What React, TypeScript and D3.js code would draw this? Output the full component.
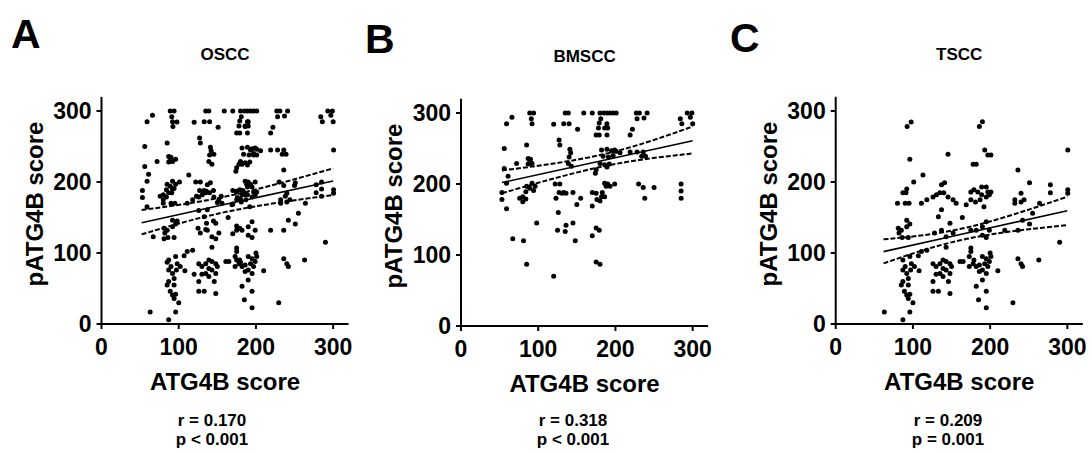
import React from "react";
import * as d3 from "d3";

// [ATG4B score, pATG4B score]
const bmsccPoints: [number, number][] = [
  [89, 300], [94, 300], [135, 300], [139, 300], [159, 300], [170, 300], [180, 300], [185, 300],
  [189, 300], [193, 300], [197, 300], [201, 300], [227, 300], [231, 300], [241, 300], [293, 300], [299, 300],
  [66, 294], [91, 292], [181, 292], [228, 292], [237, 293], [297, 294], [284, 292],
  [59, 285], [92, 285], [120, 284], [133, 285], [140, 285], [179, 286], [189, 285], [286, 285], [300, 285],
  [151, 277], [186, 279], [178, 279], [190, 279], [222, 277],
  [219, 269], [175, 269], [179, 269], [189, 269], [127, 262], [128, 255], [85, 255], [56, 250],
  [87, 236], [90, 235], [88, 229], [92, 229], [87, 228],
  [141, 249], [142, 244], [140, 238], [139, 229], [143, 225], [72, 229], [56, 222],
  [182, 248], [189, 249], [195, 247], [199, 248], [184, 239], [191, 238], [197, 240], [180, 229],
  [186, 227], [192, 228], [201, 246], [206, 244],
  [219, 245], [228, 245], [236, 245], [234, 239], [239, 239],
  [174, 215], [175, 220], [189, 224],
  [53, 188], [53, 178], [59, 201], [61, 211],
  [85, 197], [89, 194], [94, 191], [84, 189], [92, 201], [96, 197],
  [76, 180], [80, 175], [84, 179], [80, 182],
  [122, 200], [128, 200], [127, 188], [131, 187], [133, 188], [136, 187], [123, 180], [145, 188], [155, 180], [150, 171],
  [170, 188], [170, 169], [175, 187], [176, 178], [182, 182], [183, 188], [188, 197], [186, 201],
  [190, 200], [193, 197], [199, 200], [180, 176], [186, 182],
  [230, 200], [236, 195], [250, 195], [238, 180],
  [285, 200], [285, 190], [285, 180],
  [59, 165], [98, 145], [126, 160], [125, 135], [135, 133], [136, 142], [145, 145],
  [67, 123], [81, 120], [148, 120], [170, 127], [175, 138], [179, 135],
  [85, 87], [175, 90], [180, 87], [120, 70],
];

// [ATG4B score, pATG4B score]
const tsccPoints: [number, number][] = [
  [92.5, 278], [97.7, 284.5], [96, 232], [101, 200], [113, 210], [145.5, 239], [186, 278], [190, 285],
  [193, 245], [197, 238], [201, 238], [178, 225], [182, 225], [236, 217], [251, 199], [300.5, 245],
  [87, 185], [91, 185], [92, 190], [80, 170], [90, 170], [95, 170], [111, 170], [118, 175], [126, 179],
  [130.5, 182], [135, 185], [137, 196], [141, 199], [140, 185], [145.5, 179], [152, 175], [156, 170],
  [169, 168], [175, 186], [179, 189], [184, 186], [175, 175], [181, 172], [187, 175], [189, 193],
  [195, 193], [197, 186], [199, 182], [189, 182], [195, 179], [201, 186], [192, 165],
  [232, 175], [232, 170], [240, 184], [240, 172], [244, 175], [264, 170], [278, 196], [278, 185],
  [300.5, 189], [300.5, 184],
  [81, 135], [85, 132], [92, 137], [96, 141], [92, 146], [82, 128], [86, 122], [94, 122],
  [137, 161], [133, 151], [128, 128], [137, 132], [143, 123], [148, 142], [152, 128], [164, 150],
  [175, 132], [182, 132], [190, 137], [195, 144], [199, 132], [190, 125], [195, 122], [219, 132],
  [242, 146], [251, 141], [255, 156], [236, 132], [290, 115], [143, 108], [118, 104], [111, 102],
  [107, 96], [96, 95], [175, 107], [175, 102],
  [87, 90], [90, 81], [87, 76], [92, 71], [97, 76], [94, 64], [87, 60], [94, 55], [85, 55],
  [89, 46], [92, 41], [96, 42], [94, 36], [100, 30], [96, 17], [108, 75], [102, 81], [98, 85],
  [126, 85], [130, 81], [135, 85], [139, 90], [143, 88], [148, 85], [150, 81], [139, 78], [143, 76],
  [135, 71], [139, 67], [148, 71], [130, 70], [126, 60], [126, 46], [133, 46], [146, 60], [148, 43],
  [161, 88], [165, 88],
  [173, 81], [178, 85], [182, 81], [186, 83], [190, 76], [193, 85], [195, 92], [199, 88], [201, 95],
  [197, 81], [190, 62], [195, 71], [186, 74], [182, 53], [195, 46], [185, 34], [195, 23], [210, 75],
  [200, 100], [190, 95], [173, 95], [179, 90],
  [236, 92], [240, 85], [242, 81], [263, 90], [229.5, 30], [63, 17], [87, 6],
];

// OSCC is the pooled cohort
const osccPoints = [...bmsccPoints, ...tsccPoints];

// regression line and 95% band, read at left end / middle / right end
const osccBandX = [52, 165, 300];
const osccFit = [142.7, 169.6, 201.4];
const osccUpper = [160.6, 180.5, 219.2];
const osccLower = [126.3, 158.7, 181.7];

const bmsccBandX = [53, 185, 300];
const bmsccFit = [202, 233.5, 261];
const bmsccUpper = [219, 242, 281];
const bmsccLower = [187, 225, 243];

const tsccBandX = [62, 170, 300];
const tsccFit = [101.9, 128.1, 159.6];
const tsccUpper = [119.2, 136, 179.3];
const tsccLower = [85.4, 120, 139.4];

const tickValues = [0, 100, 200, 300];

const panels = [
  { letter: "A", title: "OSCC", points: osccPoints, bx: osccBandX, fit: osccFit, up: osccUpper, lo: osccLower, r: "r = 0.170", p: "p < 0.001", ox: 101.5, oy: 324, lx: 11, ly: 48, statX: 212 },
  { letter: "B", title: "BMSCC", points: bmsccPoints, bx: bmsccBandX, fit: bmsccFit, up: bmsccUpper, lo: bmsccLower, r: "r = 0.318", p: "p < 0.001", ox: 461, oy: 326, lx: 365, ly: 53, statX: 573 },
  { letter: "C", title: "TSCC", points: tsccPoints, bx: tsccBandX, fit: tsccFit, up: tsccUpper, lo: tsccLower, r: "r = 0.209", p: "p = 0.001", ox: 835.7, oy: 324, lx: 730, ly: 52, statX: 948 },
];

const font = "'Liberation Sans', Arial, sans-serif";

function Panel({ d }: { d: (typeof panels)[number] }) {
  const x = d3.scaleLinear().domain([0, 320]).range([d.ox, d.ox + 247.1]);
  const y = d3.scaleLinear().domain([0, 320]).range([d.oy, d.oy - 227.2]);
  const band = (vals: number[]) =>
    d3.line<number>().x((_, i) => x(d.bx[i])).y((v) => y(v)).curve(d3.curveNatural)(vals) || "";
  const cx = (x(0) + x(320)) / 2;

  return (
    <g>
      <text x={d.lx} y={d.ly} fontSize={41} fontWeight="bold" fontFamily={font}>{d.letter}</text>
      <text x={cx} y={d.oy - 264} textAnchor="middle" fontSize={17} fontWeight="bold" fontFamily={font}>{d.title}</text>

      {d.points.map(([px, py], i) => (
        <circle key={i} cx={x(px)} cy={y(py)} r={2.5} fill="#000" />
      ))}

      <path d={band(d.fit)} fill="none" stroke="#000" strokeWidth={1.6} />
      <path d={band(d.up)} fill="none" stroke="#000" strokeWidth={2} strokeDasharray="5,2" />
      <path d={band(d.lo)} fill="none" stroke="#000" strokeWidth={2} strokeDasharray="5,2" />

      {/* axes */}
      <line x1={x(0)} x2={x(320)} y1={y(0)} y2={y(0)} stroke="#000" strokeWidth={2} />
      <line x1={x(0)} x2={x(0)} y1={y(0) + 1} y2={y(320)} stroke="#000" strokeWidth={2} />
      {tickValues.map((t) => (
        <g key={"x" + t}>
          <line x1={x(t)} x2={x(t)} y1={y(0)} y2={y(0) + 5} stroke="#000" strokeWidth={2} />
          <text x={x(t)} y={y(0) + 31} textAnchor="middle" fontSize={23} fontWeight="bold" fontFamily={font}>{t}</text>
        </g>
      ))}
      {tickValues.map((t) => (
        <g key={"y" + t}>
          <line x1={x(0) - 5} x2={x(0)} y1={y(t)} y2={y(t)} stroke="#000" strokeWidth={2} />
          <text x={x(0) - 10} y={y(t)} dy="0.36em" textAnchor="end" fontSize={23} fontWeight="bold" fontFamily={font}>{t}</text>
        </g>
      ))}

      <text x={cx} y={d.oy + 66} textAnchor="middle" fontSize={24} fontWeight="bold" fontFamily={font}>ATG4B score</text>
      <text transform={`translate(${d.ox - 58.8},${d.oy - 120}) rotate(-90)`} textAnchor="middle" fontSize={24} fontWeight="bold" fontFamily={font}>pATG4B score</text>

      <text x={d.statX} y={425.5} textAnchor="middle" fontSize={17} fontWeight="bold" fontFamily={font}>{d.r}</text>
      <text x={d.statX} y={445} textAnchor="middle" fontSize={17} fontWeight="bold" fontFamily={font}>{d.p}</text>
    </g>
  );
}

export default function App() {
  return (
    <svg width={1092} height={454} style={{ position: "absolute", left: 0, top: 0, background: "#fff" }}>
      {panels.map((d) => (
        <Panel key={d.letter} d={d} />
      ))}
    </svg>
  );
}
